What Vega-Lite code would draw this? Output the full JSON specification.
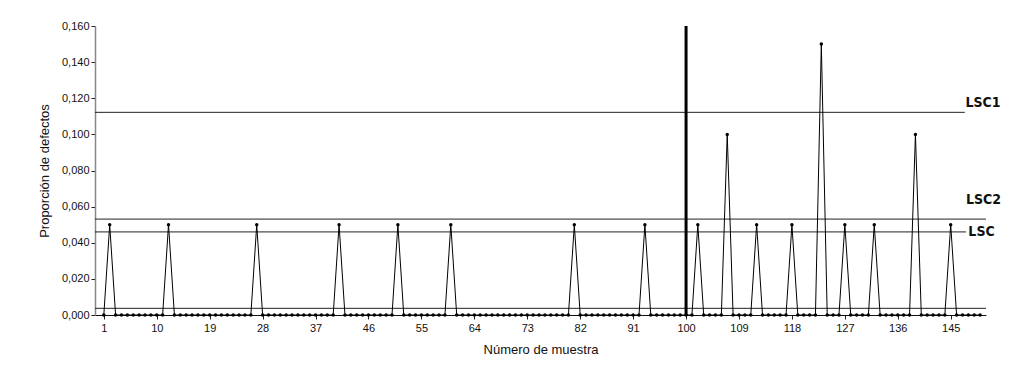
{
  "$schema": "https://vega.github.io/schema/vega-lite/v6.json",
  "autosize": "none",
  "width": 891,
  "height": 289,
  "padding": {"left": 95, "top": 26, "right": 33, "bottom": 67},
  "background": "white",
  "config": {
    "view": {"stroke": null},
    "font": "Liberation Sans",
    "axis": {"grid": false, "labelOverlap": false, "labelFont": "Liberation Sans", "labelFontSize": 11, "labelColor": "#111", "titleFont": "Liberation Sans", "titleFontSize": 13, "titleFontWeight": "normal", "titleColor": "#111", "tickColor": "#222", "tickSize": 4}
  },
  "datasets": {
    "series": [
      {"muestra": 1, "p": 0}, {"muestra": 2, "p": 0.05}, {"muestra": 3, "p": 0}, {"muestra": 4, "p": 0}, {"muestra": 5, "p": 0},
      {"muestra": 6, "p": 0}, {"muestra": 7, "p": 0}, {"muestra": 8, "p": 0}, {"muestra": 9, "p": 0}, {"muestra": 10, "p": 0},
      {"muestra": 11, "p": 0}, {"muestra": 12, "p": 0.05}, {"muestra": 13, "p": 0}, {"muestra": 14, "p": 0}, {"muestra": 15, "p": 0},
      {"muestra": 16, "p": 0}, {"muestra": 17, "p": 0}, {"muestra": 18, "p": 0}, {"muestra": 19, "p": 0}, {"muestra": 20, "p": 0},
      {"muestra": 21, "p": 0}, {"muestra": 22, "p": 0}, {"muestra": 23, "p": 0}, {"muestra": 24, "p": 0}, {"muestra": 25, "p": 0},
      {"muestra": 26, "p": 0}, {"muestra": 27, "p": 0.05}, {"muestra": 28, "p": 0}, {"muestra": 29, "p": 0}, {"muestra": 30, "p": 0},
      {"muestra": 31, "p": 0}, {"muestra": 32, "p": 0}, {"muestra": 33, "p": 0}, {"muestra": 34, "p": 0}, {"muestra": 35, "p": 0},
      {"muestra": 36, "p": 0}, {"muestra": 37, "p": 0}, {"muestra": 38, "p": 0}, {"muestra": 39, "p": 0}, {"muestra": 40, "p": 0},
      {"muestra": 41, "p": 0.05}, {"muestra": 42, "p": 0}, {"muestra": 43, "p": 0}, {"muestra": 44, "p": 0}, {"muestra": 45, "p": 0},
      {"muestra": 46, "p": 0}, {"muestra": 47, "p": 0}, {"muestra": 48, "p": 0}, {"muestra": 49, "p": 0}, {"muestra": 50, "p": 0},
      {"muestra": 51, "p": 0.05}, {"muestra": 52, "p": 0}, {"muestra": 53, "p": 0}, {"muestra": 54, "p": 0}, {"muestra": 55, "p": 0},
      {"muestra": 56, "p": 0}, {"muestra": 57, "p": 0}, {"muestra": 58, "p": 0}, {"muestra": 59, "p": 0}, {"muestra": 60, "p": 0.05},
      {"muestra": 61, "p": 0}, {"muestra": 62, "p": 0}, {"muestra": 63, "p": 0}, {"muestra": 64, "p": 0}, {"muestra": 65, "p": 0},
      {"muestra": 66, "p": 0}, {"muestra": 67, "p": 0}, {"muestra": 68, "p": 0}, {"muestra": 69, "p": 0}, {"muestra": 70, "p": 0},
      {"muestra": 71, "p": 0}, {"muestra": 72, "p": 0}, {"muestra": 73, "p": 0}, {"muestra": 74, "p": 0}, {"muestra": 75, "p": 0},
      {"muestra": 76, "p": 0}, {"muestra": 77, "p": 0}, {"muestra": 78, "p": 0}, {"muestra": 79, "p": 0}, {"muestra": 80, "p": 0},
      {"muestra": 81, "p": 0.05}, {"muestra": 82, "p": 0}, {"muestra": 83, "p": 0}, {"muestra": 84, "p": 0}, {"muestra": 85, "p": 0},
      {"muestra": 86, "p": 0}, {"muestra": 87, "p": 0}, {"muestra": 88, "p": 0}, {"muestra": 89, "p": 0}, {"muestra": 90, "p": 0},
      {"muestra": 91, "p": 0}, {"muestra": 92, "p": 0}, {"muestra": 93, "p": 0.05}, {"muestra": 94, "p": 0}, {"muestra": 95, "p": 0},
      {"muestra": 96, "p": 0}, {"muestra": 97, "p": 0}, {"muestra": 98, "p": 0}, {"muestra": 99, "p": 0}, {"muestra": 100, "p": 0},
      {"muestra": 101, "p": 0}, {"muestra": 102, "p": 0.05}, {"muestra": 103, "p": 0}, {"muestra": 104, "p": 0}, {"muestra": 105, "p": 0},
      {"muestra": 106, "p": 0}, {"muestra": 107, "p": 0.1}, {"muestra": 108, "p": 0}, {"muestra": 109, "p": 0}, {"muestra": 110, "p": 0},
      {"muestra": 111, "p": 0}, {"muestra": 112, "p": 0.05}, {"muestra": 113, "p": 0}, {"muestra": 114, "p": 0}, {"muestra": 115, "p": 0},
      {"muestra": 116, "p": 0}, {"muestra": 117, "p": 0}, {"muestra": 118, "p": 0.05}, {"muestra": 119, "p": 0}, {"muestra": 120, "p": 0},
      {"muestra": 121, "p": 0}, {"muestra": 122, "p": 0}, {"muestra": 123, "p": 0.15}, {"muestra": 124, "p": 0}, {"muestra": 125, "p": 0},
      {"muestra": 126, "p": 0}, {"muestra": 127, "p": 0.05}, {"muestra": 128, "p": 0}, {"muestra": 129, "p": 0}, {"muestra": 130, "p": 0},
      {"muestra": 131, "p": 0}, {"muestra": 132, "p": 0.05}, {"muestra": 133, "p": 0}, {"muestra": 134, "p": 0}, {"muestra": 135, "p": 0},
      {"muestra": 136, "p": 0}, {"muestra": 137, "p": 0}, {"muestra": 138, "p": 0}, {"muestra": 139, "p": 0.1}, {"muestra": 140, "p": 0},
      {"muestra": 141, "p": 0}, {"muestra": 142, "p": 0}, {"muestra": 143, "p": 0}, {"muestra": 144, "p": 0}, {"muestra": 145, "p": 0.05},
      {"muestra": 146, "p": 0}, {"muestra": 147, "p": 0}, {"muestra": 148, "p": 0}, {"muestra": 149, "p": 0}, {"muestra": 150, "p": 0}
    ],
    "limits": [
      {"name": "LSC1", "x1": -0.5, "x2": 147.4, "y": 0.1122},
      {"name": "LSC2", "x1": -0.5, "x2": 151, "y": 0.0531},
      {"name": "LSC", "x1": -0.5, "x2": 147.6, "y": 0.046},
      {"name": "LIC", "x1": -0.5, "x2": 151, "y": 0.0037}
    ],
    "labels": [
      {"label": "LSC1", "x": 147.5, "y": 0.1174},
      {"label": "LSC2", "x": 147.6, "y": 0.0637},
      {"label": "LSC", "x": 148.0, "y": 0.0461}
    ],
    "cut": [{"x": 100, "y1": 0, "y2": 0.16}]
  },
  "layer": [
    {
      "data": {"name": "limits"},
      "mark": {"type": "rule", "color": "#222", "strokeWidth": 1},
      "encoding": {
        "x": {"field": "x1", "type": "quantitative", "scale": {"domain": [-0.5, 151], "nice": false, "zero": false},
              "axis": {"values": [1, 10, 19, 28, 37, 46, 55, 64, 73, 82, 91, 100, 109, 118, 127, 136, 145], "tickCount": 40, "title": "Número de muestra", "domainColor": "#111", "titlePadding": 10, "labelPadding": 3}},
        "x2": {"field": "x2"},
        "y": {"field": "y", "type": "quantitative", "scale": {"domain": [0, 0.16], "nice": false},
              "axis": {"values": [0, 0.02, 0.04, 0.06, 0.08, 0.1, 0.12, 0.14, 0.16], "tickCount": 20, "labelExpr": "replace(format(datum.value, '.3f'), '.', ',')", "title": "Proporción de defectos", "domainColor": "#888", "domainWidth": 1.5, "titlePadding": 10, "labelPadding": 2}}
      }
    },
    {
      "data": {"name": "series"},
      "mark": {"type": "line", "color": "black", "strokeWidth": 1, "point": {"filled": true, "size": 12, "color": "black"}},
      "encoding": {
        "x": {"field": "muestra", "type": "quantitative"},
        "y": {"field": "p", "type": "quantitative"}
      }
    },
    {
      "data": {"name": "cut"},
      "mark": {"type": "rule", "color": "black", "strokeWidth": 3},
      "encoding": {
        "x": {"field": "x", "type": "quantitative"},
        "y": {"field": "y1", "type": "quantitative"},
        "y2": {"field": "y2"}
      }
    },
    {
      "data": {"name": "labels"},
      "mark": {"type": "text", "align": "left", "baseline": "middle", "font": "Liberation Sans Narrow, DejaVu Sans Condensed, Liberation Sans", "fontSize": 14, "fontWeight": "bold", "color": "#111"},
      "encoding": {
        "x": {"field": "x", "type": "quantitative"},
        "y": {"field": "y", "type": "quantitative"},
        "text": {"field": "label"}
      }
    }
  ]
}
